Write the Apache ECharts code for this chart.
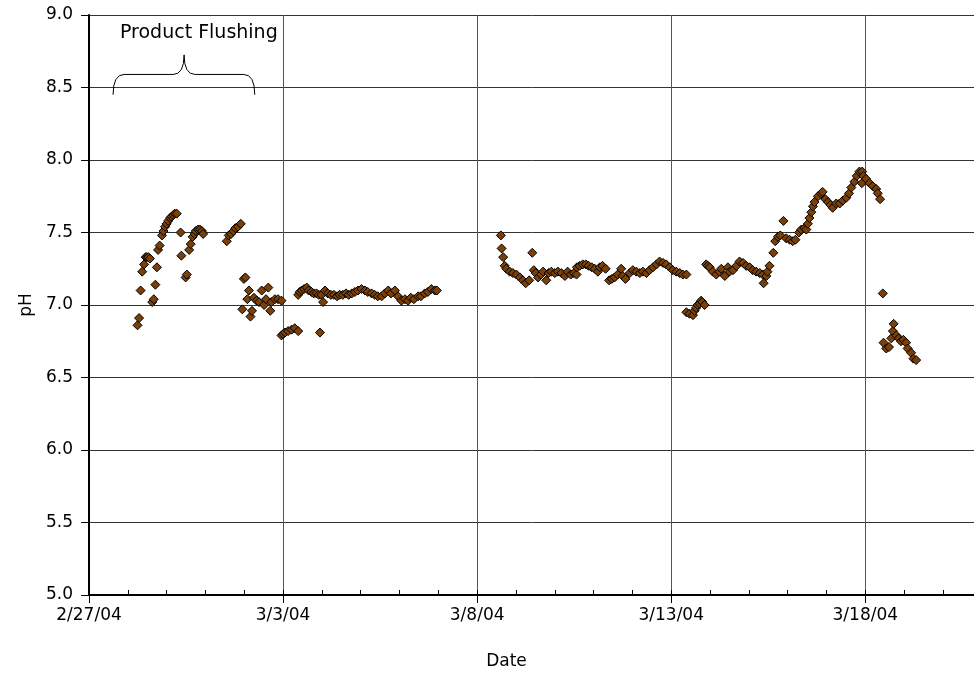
<!DOCTYPE html>
<html>
<head>
<meta charset="utf-8">
<script src="https://cdn.jsdelivr.net/npm/echarts@6/dist/echarts.min.js"></script>
<style>
html,body{margin:0;padding:0;background:#fff;}
#chart{width:974px;height:676px;}
</style>
</head>
<body>
<div id="chart"></div>
<script>
// Day offsets are days since 2/27/04 00:00
const tickLabels = ['2/27/04', '3/3/04', '3/8/04', '3/13/04', '3/18/04'];

const flushDays = [1.25,1.29,1.33,1.37,1.42,1.46,1.49,1.53,1.57,1.63,1.67,1.71,1.75,1.78,1.82,1.88,1.92,1.96,2.00,2.04,2.09,2.13,2.17,2.21,2.26,2.36,2.38,2.49,2.52,2.58,2.62,2.67,2.72,2.75,2.81,2.86,2.91,2.94,
  3.55,3.60,3.66,3.72,3.77,3.84,3.91,3.95,3.99,4.03,4.08,4.12,4.16,4.20,4.25,4.32,4.38,4.45,4.51,4.56,4.62,4.67,4.70,4.79,4.87,4.96];
const flushPH = [6.86,6.91,7.10,7.23,7.28,7.33,7.33,7.33,7.32,7.02,7.04,7.14,7.26,7.38,7.41,7.48,7.51,7.54,7.56,7.58,7.60,7.61,7.62,7.63,7.63,7.50,7.34,7.19,7.21,7.38,7.42,7.47,7.49,7.51,7.52,7.52,7.51,7.49,
  7.44,7.48,7.49,7.51,7.53,7.54,7.56,6.97,7.18,7.19,7.04,7.10,6.92,6.96,7.05,7.03,7.02,7.10,7.00,7.04,7.12,6.96,7.02,7.04,7.04,7.03];

const earlyDays = [4.96,5.00,5.05,5.13,5.22,5.30,5.39,5.95,
  5.39,5.43,5.48,5.54,5.61,5.66,5.73,5.79,5.86,5.92,5.99,6.03,6.08,6.15,6.23,6.31,6.39,6.46,6.54,6.62,6.69,6.77,6.85,6.93,7.02,7.11,7.18,7.28,7.36,7.44,7.54,7.62,7.71,7.78,7.88,7.96,8.05,8.14,8.22,8.29,8.37,8.48,8.55,8.65,8.73,8.82,8.91,8.96];
const earlyPH = [6.79,6.80,6.81,6.82,6.83,6.84,6.82,6.81,
  7.07,7.09,7.10,7.11,7.12,7.10,7.09,7.08,7.08,7.07,7.07,7.02,7.10,7.08,7.07,7.07,7.06,7.07,7.07,7.08,7.07,7.08,7.09,7.10,7.11,7.10,7.09,7.08,7.07,7.06,7.06,7.08,7.10,7.08,7.10,7.06,7.03,7.04,7.03,7.05,7.04,7.06,7.06,7.08,7.09,7.11,7.10,7.10];

const midDays = [10.61,10.63,10.67,10.71,10.75,10.84,10.92,11.01,11.10,11.18,11.25,11.34,11.42,11.46,11.51,11.57,11.64,11.70,11.78,11.84,11.91,12.00,12.08,12.17,12.26,12.33,12.41,12.49,12.56,12.57,12.64,12.72,12.80,12.87,12.95,13.03,13.11,13.16,13.23,13.31,13.40,13.47,13.54,13.62,13.71,13.75,13.82,13.93,14.01,14.10,14.19,14.27,14.36,14.44,14.53,14.62,14.70,14.79,14.87,14.96,15.04,15.13,15.22,15.30,15.39];
const midPH = [7.48,7.39,7.33,7.27,7.25,7.23,7.22,7.21,7.19,7.17,7.15,7.17,7.36,7.24,7.22,7.19,7.21,7.23,7.17,7.22,7.23,7.22,7.23,7.22,7.20,7.23,7.21,7.22,7.21,7.26,7.27,7.28,7.28,7.27,7.26,7.25,7.23,7.26,7.27,7.25,7.17,7.18,7.19,7.21,7.25,7.20,7.18,7.22,7.24,7.23,7.22,7.23,7.22,7.24,7.26,7.28,7.30,7.29,7.28,7.26,7.24,7.23,7.22,7.21,7.21];

const lateDays = [15.39,15.47,15.56,15.60,15.64,15.68,15.73,15.77,15.80,15.86,
  15.90,15.94,15.99,16.07,16.16,16.24,16.29,16.38,16.46,16.50,16.59,16.68,16.76,16.85,16.93,17.02,17.10,17.19,17.28,17.36,17.38,17.45,17.48,17.53,17.63,17.68,17.75,17.81,17.89,17.96,18.05,18.13,18.20,18.29,18.35,18.43,18.48,18.52,18.56,18.61,18.65,18.69,18.78,18.86,18.90,18.97,19.04,19.10,19.16,19.25,19.34,19.42,19.51,19.58,19.64,19.72,19.78,19.85,19.92,19.91,19.95,20.02,20.11,20.19,20.28,20.32,20.38,
  20.45,20.47,20.54,20.61,20.67,20.71,20.73,20.80,20.86,20.92,20.98,21.05,21.09,21.18,21.24,21.31];
const latePH = [6.95,6.94,6.93,6.96,6.98,7.00,7.01,7.03,7.02,7.00,
  7.28,7.27,7.26,7.23,7.21,7.23,7.25,7.20,7.26,7.23,7.24,7.27,7.30,7.29,7.27,7.26,7.24,7.23,7.22,7.21,7.15,7.20,7.23,7.27,7.36,7.44,7.47,7.48,7.58,7.46,7.45,7.44,7.45,7.50,7.52,7.53,7.52,7.56,7.60,7.64,7.68,7.71,7.75,7.77,7.78,7.73,7.71,7.69,7.67,7.70,7.70,7.72,7.74,7.77,7.81,7.85,7.89,7.92,7.92,7.84,7.89,7.87,7.84,7.82,7.80,7.77,7.73,
  7.08,6.74,6.70,6.71,6.77,6.82,6.87,6.79,6.77,6.75,6.76,6.74,6.70,6.67,6.63,6.62];

// annotation anchor (data space)
const annotText = 'Product Flushing';
const brace = { start: 0.62, end: 4.27, tip: 2.45, baseY: 8.45, barY: 8.59, tipY: 8.725, textX: 2.83, textY: 8.876 };

function pairs(xs, ys) { return xs.map((x, i) => [x, ys[i]]); }
const points = [].concat(pairs(flushDays, flushPH), pairs(earlyDays, earlyPH), pairs(midDays, midPH), pairs(lateDays, latePH));

const FONT = 'DejaVu Sans';
const X_MAX = 22.8;
const chart = echarts.init(document.getElementById('chart'), null, { renderer: 'canvas' });
chart.setOption({
  animation: false,
  backgroundColor: '#ffffff',
  grid: { left: 89, top: 15, right: 0, bottom: 81, containLabel: false },
  xAxis: [
    {
      type: 'value', min: 0, max: X_MAX, interval: 5, position: 'bottom',
      name: 'Date', nameLocation: 'middle', nameGap: 58,
      nameTextStyle: { fontFamily: FONT, fontSize: 17, color: '#000', padding: [0, 50, 0, 0] },
      axisLine: { show: true, lineStyle: { color: '#000', width: 2 } },
      axisTick: { show: true, inside: false, length: 8, lineStyle: { color: '#000', width: 1 } },
      axisLabel: {
        margin: 12, fontFamily: FONT, fontSize: 17, color: '#000', showMaxLabel: false,
        formatter: v => (v % 5 === 0 && tickLabels[v / 5]) ? tickLabels[v / 5] : ''
      },
      splitLine: { show: true, lineStyle: { color: '#555', width: 1 } }
    },
    {
      type: 'value', min: 0, max: X_MAX, interval: 1, position: 'bottom',
      axisLine: { show: false },
      axisTick: { show: true, inside: true, length: 5, lineStyle: { color: '#000', width: 1 } },
      axisLabel: { show: false },
      splitLine: { show: false }
    }
  ],
  yAxis: {
    type: 'value', min: 5, max: 9, interval: 0.5,
    name: 'pH', nameLocation: 'middle', nameGap: 42, nameRotate: 90,
    nameTextStyle: { fontFamily: FONT, fontSize: 17, color: '#000' },
    axisLine: { show: true, lineStyle: { color: '#000', width: 2 } },
    axisTick: { show: true, inside: false, length: 8, lineStyle: { color: '#000', width: 1 } },
    axisLabel: { margin: 16, fontFamily: FONT, fontSize: 17, color: '#000', formatter: v => v.toFixed(1) },
    splitLine: { show: true, lineStyle: { color: '#333', width: 1 } }
  },
  series: [
    {
      type: 'scatter', xAxisIndex: 0, data: points,
      symbol: 'diamond', symbolSize: 9,
      itemStyle: { color: '#7b3f08', borderColor: '#000', borderWidth: 1, opacity: 1 },
      z: 3
    },
    {
      type: 'custom', xAxisIndex: 0, clip: false, silent: true, z: 4,
      data: [[brace.tip, brace.tipY]],
      renderItem: function (params, api) {
        const pL = api.coord([brace.start, brace.baseY]);
        const pR = api.coord([brace.end, brace.baseY]);
        const pBar = api.coord([brace.tip, brace.barY]);
        const pTip = api.coord([brace.tip, brace.tipY]);
        const pTxt = api.coord([brace.textX, brace.textY]);
        const y0 = pL[1], y1 = pBar[1], xt = pTip[0], yt = pTip[1];
        const x0 = pL[0], x1 = pR[0];
        const r = 11;
        const d = 'M' + x0 + ' ' + y0 +
          ' Q' + x0 + ' ' + y1 + ' ' + (x0 + r) + ' ' + y1 +
          ' L' + (xt - r) + ' ' + y1 +
          ' Q' + xt + ' ' + y1 + ' ' + xt + ' ' + yt +
          ' Q' + xt + ' ' + y1 + ' ' + (xt + r) + ' ' + y1 +
          ' L' + (x1 - r) + ' ' + y1 +
          ' Q' + x1 + ' ' + y1 + ' ' + x1 + ' ' + y0;
        return {
          type: 'group',
          children: [
            { type: 'path', shape: { pathData: d }, style: { fill: null, stroke: '#000', lineWidth: 1 } },
            { type: 'text', x: pTxt[0], y: pTxt[1], style: { text: annotText, fontFamily: FONT, fontSize: 19, fill: '#000', align: 'center', verticalAlign: 'middle' } }
          ]
        };
      }
    }
  ]
});
</script>
</body>
</html>
